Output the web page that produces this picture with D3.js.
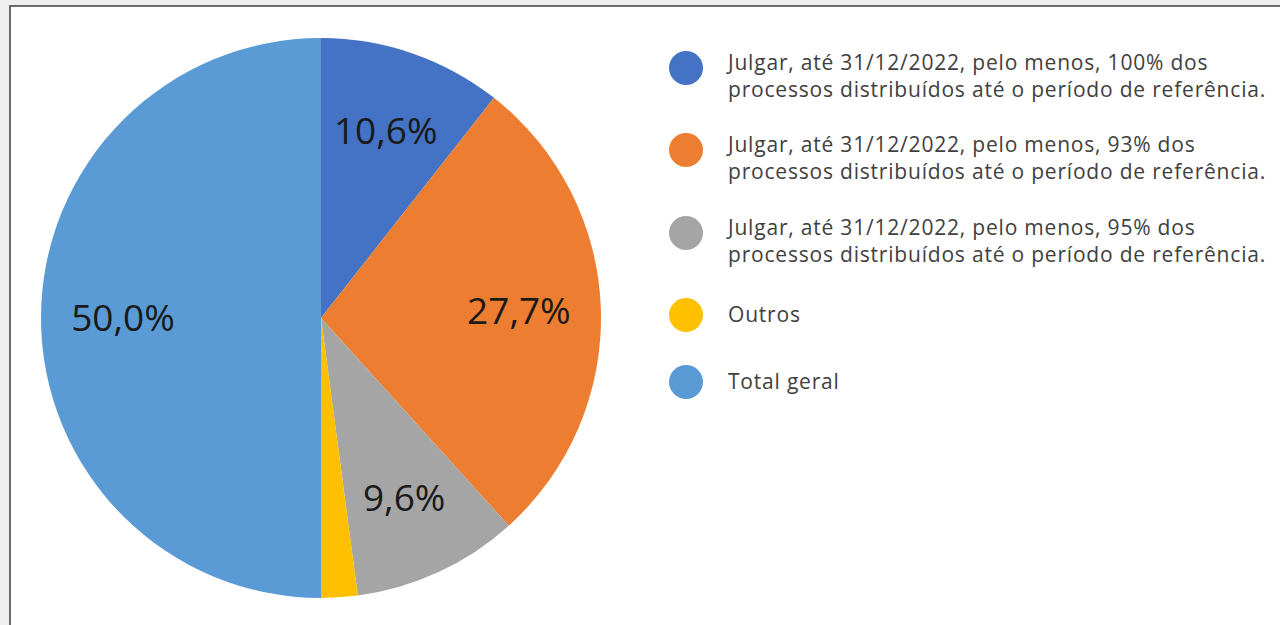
<!DOCTYPE html>
<html>
<head>
<meta charset="utf-8">
<script src="https://cdn.jsdelivr.net/npm/d3@7"></script>
<style>
  html, body { margin: 0; padding: 0; background: #efefef; }
  #canvas { display: block; }
</style>
</head>
<body>
<svg id="canvas" width="1280" height="625"></svg>
<script>
// dados do gráfico de pizza
let categorias = [
    ["Julgar, até 31/12/2022, pelo menos, 100% dos", "processos distribuídos até o período de referência."],
    ["Julgar, até 31/12/2022, pelo menos, 93% dos", "processos distribuídos até o período de referência."],
    ["Julgar, até 31/12/2022, pelo menos, 95% dos", "processos distribuídos até o período de referência."],
    ["Outros"],
    ["Total geral"]
];
let valores = [10.6, 27.7, 9.6, 2.1, 50.0];
let rotulos = ["10,6%", "27,7%", "9,6%", "", "50,0%"];
let cores = ["#4472C4", "#ED7D31", "#A5A5A5", "#FFC000", "#5B9BD5"];

let canvas = d3.select('#canvas');

// moldura branca
canvas.append('rect')
    .attr('x', 10).attr('y', 6)
    .attr('width', 1290).attr('height', 640)
    .attr('fill', '#ffffff')
    .attr('stroke', '#6b6b6b')
    .attr('stroke-width', 2);

let cx = 321, cy = 318, raio = 280;

let pie = d3.pie().sort(null).value(d => d);
let arcos = pie(valores);
let arc = d3.arc().innerRadius(0).outerRadius(raio);
let arcRotulo = d3.arc().innerRadius(198).outerRadius(198);

let g = canvas.append('g').attr('transform', `translate(${cx},${cy})`);

g.selectAll('path')
    .data(arcos)
    .enter()
    .append('path')
    .attr('d', arc)
    .attr('fill', (d, i) => cores[i]);

g.selectAll('text')
    .data(arcos)
    .enter()
    .append('text')
    .attr('transform', d => `translate(${arcRotulo.centroid(d)})`)
    .attr('text-anchor', 'middle')
    .attr('dy', '0.35em')
    .attr('font-family', 'Open Sans, sans-serif')
    .attr('font-size', 37)
    .attr('fill', '#1a1a1a')
    .text((d, i) => rotulos[i]);

// legenda
let legendaY = [68, 150, 233, 315, 382];
let legenda = canvas.append('g');

let itens = legenda.selectAll('g')
    .data(categorias)
    .enter()
    .append('g')
    .attr('transform', (d, i) => `translate(686,${legendaY[i]})`);

itens.append('circle')
    .attr('r', 17)
    .attr('fill', (d, i) => cores[i]);

itens.append('text')
    .attr('font-family', 'Open Sans, sans-serif')
    .attr('font-size', 21)
    .attr('letter-spacing', 0.8)
    .attr('fill', '#404040')
    .selectAll('tspan')
    .data(d => d)
    .enter()
    .append('tspan')
    .attr('x', 42)
    .attr('y', (d, j, nodes) => nodes.length == 1 ? 7 : 2 + j * 27)
    .text(d => d);
</script>
</body>
</html>
